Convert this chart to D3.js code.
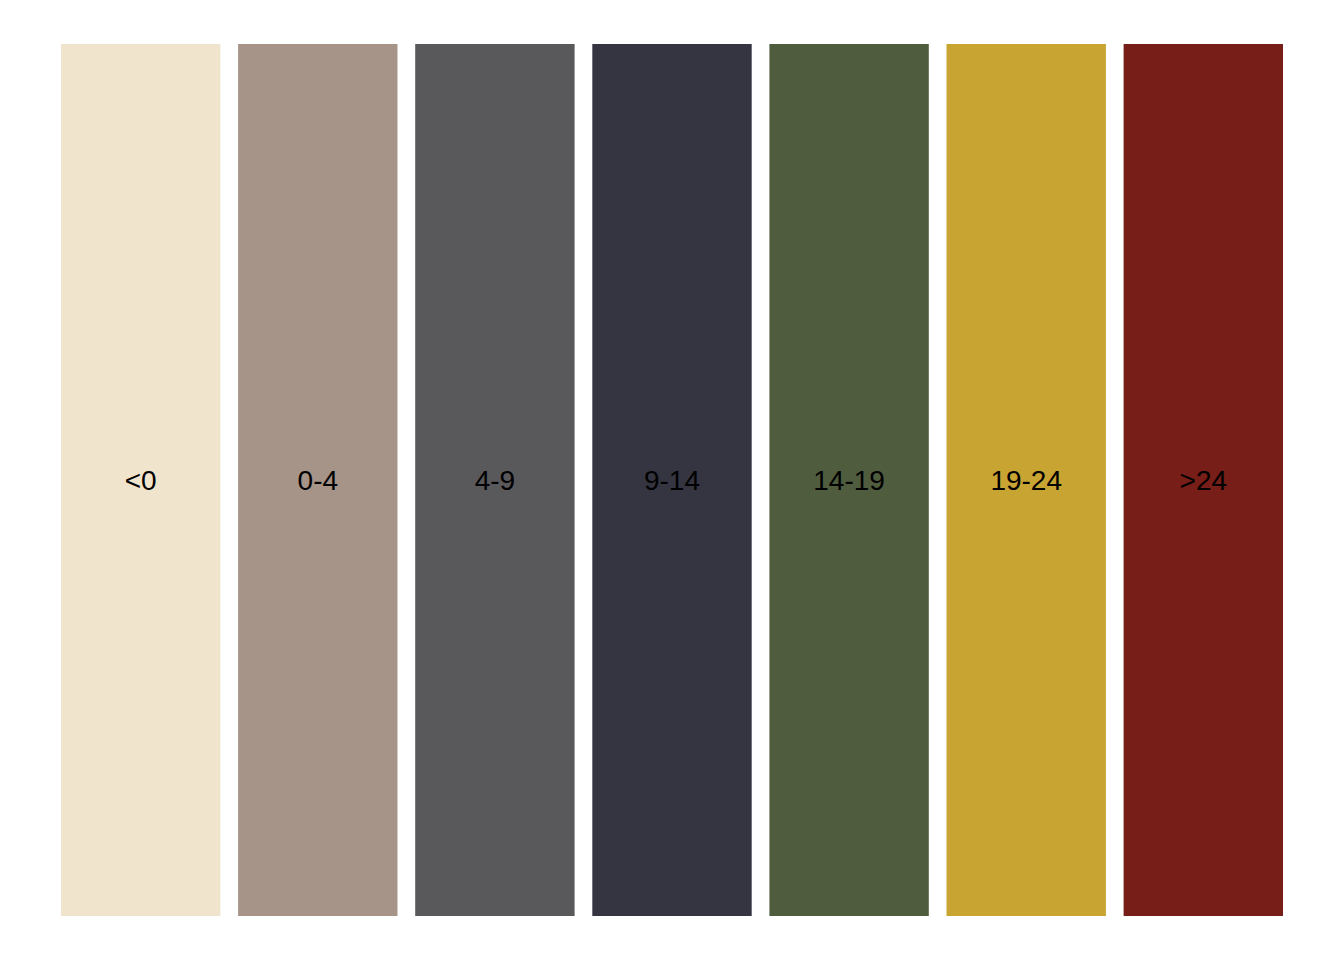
<!DOCTYPE html>
<html>
<head>
<meta charset="utf-8">
<script src="https://cdn.jsdelivr.net/npm/d3@7"></script>
<style>
  html, body { margin: 0; padding: 0; background: #ffffff; }
  svg { display: block; }
</style>
</head>
<body>
<svg id="chart" width="1344" height="960"></svg>
<script>
const categories = ["<0", "0-4", "4-9", "9-14", "14-19", "19-24", ">24"];
const colors = ["#F0E4CD", "#A69489", "#59585A", "#353541", "#4F5D3E", "#C8A432", "#761E17"];
const values = [1, 1, 1, 1, 1, 1, 1];

const svg = d3.select("#chart");
const x = d3.scaleBand().domain(categories).range([61, 1283]).paddingInner(0.1).paddingOuter(0);
const y = d3.scaleLinear().domain([0, 1]).range([916, 44]);

svg.selectAll("rect.bar")
  .data(categories)
  .join("rect")
  .attr("class", "bar")
  .attr("x", d => x(d))
  .attr("width", x.bandwidth())
  .attr("y", (d, i) => y(values[i]))
  .attr("height", (d, i) => y(0) - y(values[i]))
  .attr("fill", (d, i) => colors[i]);

svg.selectAll("text.lbl")
  .data(categories)
  .join("text")
  .attr("class", "lbl")
  .attr("x", d => x(d) + x.bandwidth() / 2)
  .attr("y", (d, i) => (y(values[i]) + y(0)) / 2 + 10)
  .attr("text-anchor", "middle")
  .attr("font-family", "Liberation Sans, Arial, sans-serif")
  .attr("font-size", 28)
  .attr("fill", "#000000")
  .text(d => d);
</script>
</body>
</html>
